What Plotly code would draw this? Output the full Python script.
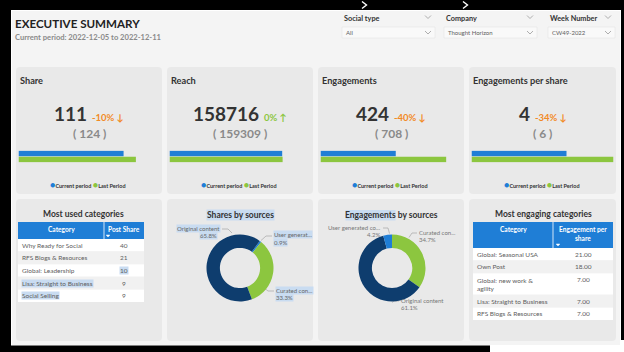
import plotly.graph_objects as go

W, H = 624, 352

# ---------------- data ----------------
header_title = "EXECUTIVE SUMMARY"
period_text = "Current period: 2022-12-05 to 2022-12-11"
slicer_labels = ["Social type", "Company", "Week Number"]
slicer_values = ["All", "Thought Horizon", "CW49-2022"]

kpi_titles = ["Share", "Reach", "Engagements", "Engagements per share"]
kpi_current = [111, 158716, 424, 3.82]
kpi_last = [124, 159309, 708, 5.71]
kpi_change = ["-10%", "0%", "-40%", "-34%"]
series_names = ["Current period", "Last Period"]

used_title = "Most used categories"
used_columns = ["Category", "Post Share"]
used_categories = ["Why Ready for Social", "RFS Blogs & Resources", "Global: Leadership",
                   "Lisa: Straight to Business", "Social Selling"]
used_post_share = [40, 21, 10, 9, 9]

engaging_title = "Most engaging categories"
engaging_columns = ["Category", "Engagement per<br>share"]
engaging_categories = ["Global: Seasonal USA", "Own Post", "Global: new work &<br>agility",
                       "Lisa: Straight to Business", "RFS Blogs & Resources"]
engaging_eps = [21.00, 18.00, 7.00, 7.00, 7.00]

shares_title = "Shares by sources"
shares_sources = ["User generated content", "Curated content", "Original content"]
shares_labels = ["User generat...", "Curated con...", "Original content"]
shares_pct = [0.9, 33.3, 65.8]

eng_title = "Engagements by sources"
eng_sources = ["Curated content", "Original content", "User generated content"]
eng_labels = ["Curated con...", "Original content", "User generated co..."]
eng_pct = [34.7, 61.1, 4.2]

# ---------------- style ----------------
BLUE = "#1f7ed6"
GREEN = "#8cc63f"
NAVY = "#0e3d6e"
ORANGE = "#f28a25"
PANEL = "#e9e9e9"
BG = "#f4f4f4"
DARK = "#333333"
GRAY = "#8a8a8a"
CELL = "#606060"
HL = "#c9dcf1"
FONT = "Lato, 'DejaVu Sans', sans-serif"
source_colors = {"Original content": NAVY, "Curated content": GREEN, "User generated content": BLUE}

panel_x = [(16, 162), (167, 313), (318, 464), (469, 616)]
row1 = (67, 194)
row2 = (199, 341)
kpi_axis_max = [150, 200000, 800, 5.71]


def fx(x):
    return x / W


def fy(y):
    return 1 - y / H


shapes = []
annotations = []


def rect(x0, y0, x1, y1, fill, line=None, lw=0):
    shapes.append(dict(type="rect", xref="paper", yref="paper", x0=fx(x0), x1=fx(x1),
                       y0=fy(y1), y1=fy(y0), fillcolor=fill, layer="below",
                       line=dict(width=lw, color=line or fill)))


def rrect(x0, y0, x1, y1, r, fill):
    rx, ry = r / W, r / H
    X0, X1, Yt, Yb = fx(x0), fx(x1), fy(y0), fy(y1)
    p = (f"M {X0+rx},{Yt} L {X1-rx},{Yt} Q {X1},{Yt} {X1},{Yt-ry} L {X1},{Yb+ry} "
         f"Q {X1},{Yb} {X1-rx},{Yb} L {X0+rx},{Yb} Q {X0},{Yb} {X0},{Yb+ry} "
         f"L {X0},{Yt-ry} Q {X0},{Yt} {X0+rx},{Yt} Z")
    shapes.append(dict(type="path", xref="paper", yref="paper", path=p, fillcolor=fill,
                       line=dict(width=0), layer="below"))


def poly(points, color, width, fill=None):
    p = "M " + " L ".join(f"{fx(x)},{fy(y)}" for x, y in points)
    if fill:
        p += " Z"
    shapes.append(dict(type="path", xref="paper", yref="paper", path=p,
                       line=dict(color=color, width=width),
                       fillcolor=fill or "rgba(0,0,0,0)", layer="below"))


def text(x, y, s, size, color=DARK, bold=False, xanchor="center", yanchor="middle",
         bg="rgba(0,0,0,0)"):
    annotations.append(dict(xref="paper", yref="paper", x=fx(x), y=fy(y),
                            text=f"<b>{s}</b>" if bold else s, showarrow=False,
                            xanchor=xanchor, yanchor=yanchor, bgcolor=bg, borderpad=0,
                            align=xanchor if xanchor != "center" else "center",
                            font=dict(size=size, color=color, family=FONT)))


def chevron(x, y, color="#9a9a9a"):
    poly([(x - 3, y - 1.5), (x, y + 1.5), (x + 3, y - 1.5)], color, 0.8)


fig = go.Figure()

# ---------------- frame ----------------
rect(0, 0, W, 10, "#000000")
rect(0, 0, 11, 346, "#000000")
rect(0, 345.5, 490, H, "#000000")
rect(621, 0, W, 340, "#000000")
rect(12, 11, 620, 345, BG)
poly([(362, 1.5), (366.5, 5), (362, 8.5)], "#ffffff", 1.4)
poly([(463, 1.5), (467.5, 5), (463, 8.5)], "#ffffff", 1.4)

# ---------------- header ----------------
text(13.5, 24, header_title, 11.6, "#222222", bold=True, xanchor="left")
text(13.5, 36.5, period_text, 7.6, GRAY, bold=True, xanchor="left")

slicer_x = [(342, 435), (444, 537), (548, 615)]
for (sx0, sx1), lab, val in zip(slicer_x, slicer_labels, slicer_values):
    text(sx0 + 1, 18, lab, 7.3, DARK, bold=True, xanchor="left")
    chevron(sx1 - 7, 17)
    rect(sx0, 27, sx1, 38, "#f9f9f9", "#e4e4e4", 0.6)
    text(sx0 + 3, 32.5, val, 6, CELL, xanchor="left")
    chevron(sx1 - 7, 32.5)

# ---------------- KPI cards ----------------
def fmt_num(v):
    return f"{round(v)}"


for i, (x0, x1) in enumerate(panel_x):
    cx = (x0 + x1) / 2
    rrect(x0, row1[0], x1, row1[1], 4, PANEL)
    text(x0 + 3, 80, kpi_titles[i], 9.2, DARK, bold=True, xanchor="left")
    up = not kpi_change[i].startswith("-")
    col = GREEN if up else ORANGE
    arrow = "↑" if up else "↓"
    s = (f"<b>{fmt_num(kpi_current[i])}</b> <span style='font-size:9.5px;color:{col}'>"
         f"<b>{kpi_change[i]} {arrow}</b></span>")
    text(cx, 113, s, 19, DARK)
    text(cx, 133, f"( {fmt_num(kpi_last[i])} )", 12, GRAY, bold=True)
    leg = (f"<span style='color:{BLUE};font-size:9px'>●</span><b>{series_names[0]}</b> "
           f"<span style='color:{GREEN};font-size:9px'>●</span><b>{series_names[1]}</b>")
    text(cx - 1, 185, leg, 5.5, DARK)

    n = i + 2
    fig.add_trace(go.Bar(x=[kpi_current[i], kpi_last[i]], y=series_names, orientation="h",
                         marker=dict(color=[BLUE, GREEN], line=dict(width=0)), width=0.92,
                         xaxis=f"x{n}", yaxis=f"y{n}", showlegend=False, hoverinfo="skip"))
    fig.layout[f"xaxis{n}"] = dict(domain=[fx(x0 + 2.5), fx(x0 + 2.5 + 142)],
                                   range=[0, kpi_axis_max[i]], visible=False,
                                   fixedrange=True, anchor=f"y{n}")
    fig.layout[f"yaxis{n}"] = dict(domain=[fy(162.5), fy(150.5)], visible=False,
                                   type="category", categoryorder="array",
                                   categoryarray=series_names[::-1], range=[-0.5, 1.5],
                                   fixedrange=True, anchor=f"x{n}")

# ---------------- bottom panels ----------------
for (x0, x1) in panel_x:
    rrect(x0, row2[0], x1, row2[1], 4, PANEL)


def draw_table(x0, x1, split, y_top, header_h, columns, cats, vals, val_fmt, arrow_x,
               highlight=()):
    row_h, line_h = 12.6, 9.0
    rect(x0, y_top, x1, y_top + header_h, BLUE)
    rect(split - 0.4, y_top, split + 0.4, y_top + header_h, "#ffffff")
    text((x0 + split) / 2, y_top + 1.8, columns[0], 6.6, "#ffffff", bold=True, yanchor="top")
    text((split + x1) / 2, y_top + 1.8, columns[1], 6.6, "#ffffff", bold=True, yanchor="top")
    ty = y_top + header_h - 3
    poly([(arrow_x - 1.8, ty - 1), (arrow_x + 1.8, ty - 1), (arrow_x, ty + 1)],
         "#ffffff", 0.5, fill="#ffffff")
    y = y_top + header_h
    for k, (c, v) in enumerate(zip(cats, vals)):
        nl = c.count("<br>") + 1
        h = row_h + (nl - 1) * line_h
        rect(x0, y, x1, y + h, "#ffffff" if k % 2 == 0 else "#f1f1f1")
        text(x0 + 3, y + row_h / 2 + (nl - 1) * line_h / 2, c, 6.5, CELL, xanchor="left",
             bg=HL if (k, 0) in highlight else "rgba(0,0,0,0)")
        text((split + x1) / 2, y + row_h / 2, val_fmt(v), 6.5, CELL,
             bg=HL if (k, 1) in highlight else "rgba(0,0,0,0)")
        y += h


# Most used categories
text(83.5, 214, used_title, 8.5, DARK, bold=True)
draw_table(18, 144, 104, 222, 17, used_columns, used_categories, used_post_share,
           lambda v: f"{v}", 108, highlight={(3, 0), (4, 0), (2, 1)})

# Most engaging categories
text(543.5, 214, engaging_title, 8.5, DARK, bold=True)
draw_table(473, 613, 553, 222, 26, engaging_columns, engaging_categories, engaging_eps,
           lambda v: f"{v:.2f}", 558)

# Donuts
R = 33.5


def donut(cx, cy, values, sources, rotation):
    fig.add_trace(go.Pie(values=values, labels=sources, sort=False, direction="clockwise",
                         rotation=rotation, hole=0.6, textinfo="none", hoverinfo="skip",
                         showlegend=False,
                         marker=dict(colors=[source_colors[s] for s in sources],
                                     line=dict(width=0)),
                         domain=dict(x=[fx(cx - R), fx(cx + R)], y=[fy(cy + R), fy(cy - R)])))


text(240.5, 215, shares_title, 8.5, DARK, bold=True, bg=HL)
donut(240, 268, shares_pct, shares_sources, 36)
# labels: user, curated, original
sh_pos = [((273, 234.5), "left", [(272, 236), (266, 236), (261, 240.5)]),
          ((275, 290), "left", [(274, 291), (268, 291), (263, 287)]),
          ((221, 228), "right", [(222, 229), (228, 229), (232, 233)])]
for lab, pct, ((lx, ly), anc, pts) in zip(shares_labels, shares_pct, sh_pos):
    poly(pts, "#9a9a9a", 0.6)
    text(lx, ly, lab, 6, "#666666", xanchor=anc, bg=HL)
    text(lx - (3 if anc == "right" else 0), ly + 7.5, f"{pct:.1f}%", 6, "#666666",
         xanchor=anc, bg=HL)

rect(345.5, 210, 395.5, 220.5, HL)
text(391, 215, eng_title, 8.5, DARK, bold=True)
donut(392, 268, eng_pct, eng_sources, 0)
# labels: curated, original, user
en_pos = [((418, 232), "left", [(417, 233), (412, 233), (409, 237.5)]),
          ((400, 300), "left", [(399, 301), (394, 301), (392, 302.5)]),
          ((382, 227), "right", [(383, 228), (388, 228), (389.5, 233.5)])]
for lab, pct, ((lx, ly), anc, pts) in zip(eng_labels, eng_pct, en_pos):
    poly(pts, "#9a9a9a", 0.6)
    text(lx, ly, lab, 6, "#777777", xanchor=anc)
    text(lx - (1 if anc == "right" else 0), ly + 7.5, f"{pct:.1f}%", 6, "#777777",
         xanchor=anc)

fig.update_layout(width=W, height=H, margin=dict(l=0, r=0, t=0, b=0),
                  paper_bgcolor="#ffffff", plot_bgcolor="rgba(0,0,0,0)",
                  showlegend=False, shapes=shapes, annotations=annotations,
                  font=dict(family=FONT))

fig.write_html("out.html", config={"displayModeBar": False})
